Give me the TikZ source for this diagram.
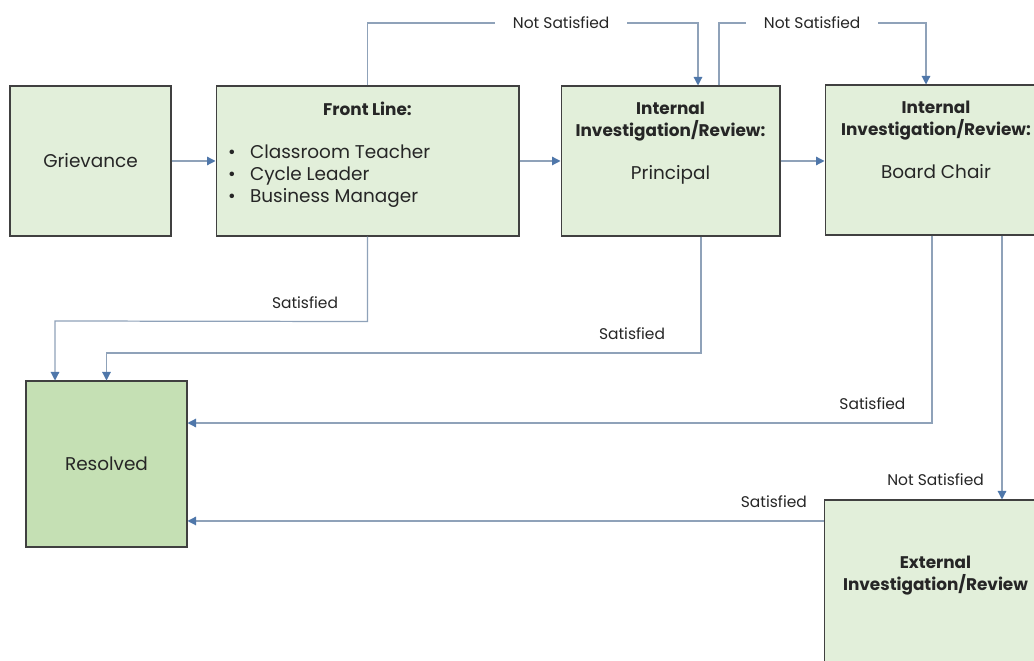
\documentclass[tikz,border=0pt]{standalone}
\usepackage{fontspec}
\setmainfont{Poppins}
\usepackage{xcolor}
\definecolor{boxfill}{HTML}{E2EFDA}
\definecolor{donefill}{HTML}{C5E0B4}
\definecolor{boxline}{HTML}{404040}
\definecolor{wire}{HTML}{8FA2B9}
\definecolor{tip}{HTML}{4F77AA}
\definecolor{ink}{HTML}{262626}
\usetikzlibrary{arrows.meta,positioning,calc}
\tikzset{
  every picture/.style={line width=0.6pt},
  stage/.style={draw=boxline, fill=boxfill, text=ink, align=center, inner sep=3pt,
    font=\fontsize{10.5}{12.6}\selectfont, minimum width=#1},
  stage/.default=3.22cm,
  flow/.style={draw=wire, line width=0.7pt, -{Triangle[length=1.7mm, width=1.7mm, color=tip]}},
  lbl/.style={font=\fontsize{8.8}{10}\selectfont, text=ink, inner sep=1pt},
}
\newcommand{\padbelow}[1]{\rule[-#1]{0pt}{0pt}}
\newcommand{\hd}[1]{{\fontsize{9.6}{12.6}\selectfont\bfseries #1}}
\newcommand{\bul}[1]{\makebox[5.58cm][l]{\makebox[0.44cm][l]{\textbullet}#1}}

\begin{document}
\begin{tikzpicture}[x=0.02cm, y=-0.02cm]
  \useasboundingbox (0,0) rectangle (1034,661);
  \clip (0,0) rectangle (1034,661);
  \fill[white] (0,0) rectangle (1034,661);
  % boxes
  \node[stage, minimum height=3cm] (griev) at (90.5,161) {Grievance};
  \node[stage=6.06cm, minimum height=3cm] (front) at (367.5,161)
    {\hd{Front Line:}\\[12pt]\bul{Classroom Teacher}\\\bul{Cycle Leader}\\\bul{Business Manager}\padbelow{0.34cm}};
  \node[stage=4.38cm, minimum height=3cm] (princ) at (670.5,161)
    {\hd{Internal}\\\hd{Investigation/Review:}\\[12pt]Principal\padbelow{0.8cm}};
  \node[stage=4.44cm, minimum height=3cm] (board) at (936,160)
    {\hd{Internal}\\\hd{Investigation/Review:}\\[12pt]Board Chair\padbelow{0.8cm}};
  \node[stage, minimum height=3.32cm, fill=donefill] (resolved) at (106.5,464) {Resolved};
  \node[stage=4.46cm, minimum height=4cm] (external) at (935.5,600)
    {\hd{External}\\\hd{Investigation/Review}\padbelow{1.06cm}};

  % forward
  \draw[flow] (griev) -- (front);
  \draw[flow] (front) -- (princ);
  \draw[flow] (princ.east) -- (princ.east -| board.west);

  % not satisfied, over the top
  \coordinate (top) at (0,23);
  \coordinate (princin) at ([xshift=0.55cm]princ.north);
  \coordinate (princout) at ([xshift=0.97cm]princ.north);
  \coordinate (boardin) at ([xshift=-0.2cm]board.north);
  \draw[flow] (front.north) -- (front.north |- top)
    -- node[lbl, fill=white, inner xsep=10pt, pos=0.586] {Not Satisfied} (princin |- top) -- (princin);
  \draw[flow] (princout) -- (princout |- top)
    -- node[lbl, fill=white, inner xsep=10pt, pos=0.45] {Not Satisfied} (boardin |- top) -- (boardin);

  % satisfied, back to resolved
  \coordinate (res1) at ([xshift=-1.03cm]resolved.north);
  \draw[flow] (front.south) -- ++(0,85)
    -- node[lbl, pos=0.2, above=6pt] {Satisfied} (res1 |- 0,321) -- (res1);
  \coordinate (princdn) at ([xshift=0.61cm]princ.south);
  \draw[flow] (princdn) -- (princdn |- 0,353)
    -- node[lbl, pos=0.116, above=6pt] {Satisfied} (resolved.north |- 0,353) -- (resolved.north);
  \coordinate (boarddn) at ([xshift=-0.08cm]board.south);
  \coordinate (res3) at ([yshift=0.82cm]resolved.east);
  \draw[flow] (boarddn) -- (boarddn |- res3)
    -- node[lbl, pos=0.08, above=6pt] {Satisfied} (res3);
  \coordinate (boardnot) at ([xshift=1.32cm]board.south);
  \draw[flow] (boardnot) -- node[lbl, pos=0.925, left=9pt] {Not Satisfied} (boardnot |- external.north);
  \coordinate (res4) at ([yshift=-1.14cm]resolved.east);
  \draw[flow] (external.west |- res4) -- node[lbl, pos=0.078, above=6pt] {Satisfied} (res4);
\end{tikzpicture}
\end{document}
